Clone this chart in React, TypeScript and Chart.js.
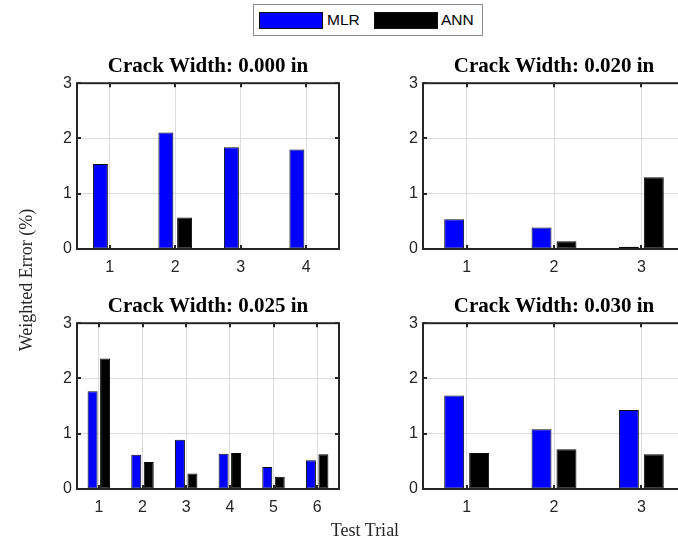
import { useEffect, useRef } from "react";
import { Chart, registerables } from "chart.js";

Chart.register(...registerables);

// Series
const seriesNames = ["MLR", "ANN"];
const seriesColors = ["#0000ff", "#000000"];

// Crack width 0.000 in
const trials000 = ["1", "2", "3", "4"];
const mlr000 = [1.54, 2.11, 1.84, 1.8];
const ann000 = [0, 0.57, 0, 0];

// Crack width 0.020 in
const trials020 = ["1", "2", "3"];
const mlr020 = [0.54, 0.39, 0.04];
const ann020 = [0, 0.14, 1.3];

// Crack width 0.025 in
const trials025 = ["1", "2", "3", "4", "5", "6"];
const mlr025 = [1.77, 0.62, 0.89, 0.64, 0.4, 0.52];
const ann025 = [2.36, 0.49, 0.28, 0.65, 0.22, 0.63];

// Crack width 0.030 in
const trials030 = ["1", "2", "3"];
const mlr030 = [1.69, 1.08, 1.43];
const ann030 = [0.65, 0.72, 0.63];

// Shared y range / ticks
const yMin = 0;
const yMax = 3;
const yStep = 1;

const SANS = "'Liberation Sans', Arial, Helvetica, sans-serif";
const SERIF = "'Liberation Serif', 'Times New Roman', Times, serif";
const AXIS_COLOR = "#262626";
const GRID_COLOR = "#dcdcdc";

// Plot-area geometry (px)
const PLOT_W = 262;
const PLOT_H = 166;
const Y_AXIS_W = 40;
const TITLE_H = 40;
const X_AXIS_H = 35;
const RIGHT_PAD = 10;

// Draws the closed axes box and inward tick marks on top of the bars
const axesFrame = {
  id: "axesFrame",
  afterDatasetsDraw(chart: any) {
    const { ctx, chartArea: a, scales } = chart;
    ctx.save();
    ctx.strokeStyle = AXIS_COLOR;
    ctx.lineWidth = 2;
    ctx.strokeRect(a.left, a.top, a.right - a.left, a.bottom - a.top);
    const tl = 4;
    ctx.beginPath();
    scales.x.ticks.forEach((_: any, i: number) => {
      const x = Math.round(scales.x.getPixelForTick(i));
      ctx.moveTo(x, a.bottom);
      ctx.lineTo(x, a.bottom - tl);
      ctx.moveTo(x, a.top);
      ctx.lineTo(x, a.top + tl);
    });
    scales.y.ticks.forEach((t: any) => {
      const y = Math.round(scales.y.getPixelForValue(t.value));
      ctx.moveTo(a.left, y);
      ctx.lineTo(a.left + tl, y);
      ctx.moveTo(a.right, y);
      ctx.lineTo(a.right - tl, y);
    });
    ctx.stroke();
    ctx.restore();
  },
};

type PanelProps = {
  title: string;
  labels: string[];
  mlr: number[];
  ann: number[];
  left: number;
  top: number;
};

function Panel({ title, labels, mlr, ann, left, top }: PanelProps) {
  const ref = useRef<HTMLCanvasElement | null>(null);
  const width = Y_AXIS_W + PLOT_W + RIGHT_PAD;
  const height = TITLE_H + PLOT_H + X_AXIS_H;

  useEffect(() => {
    if (!ref.current) return;
    const chart = new Chart(ref.current, {
      type: "bar",
      data: {
        labels,
        datasets: [mlr, ann].map((values, i) => ({
          label: seriesNames[i],
          data: values,
          backgroundColor: seriesColors[i],
          borderColor: "#0a0a0a",
          borderWidth: 1,
          borderSkipped: false,
          categoryPercentage: 0.5714,
          barPercentage: 0.8,
        })),
      },
      options: {
        responsive: false,
        animation: false,
        devicePixelRatio: 1,
        layout: { padding: { left: 0, top: 0, bottom: 0, right: RIGHT_PAD } },
        plugins: {
          legend: { display: false },
          tooltip: { enabled: false },
          title: {
            display: true,
            fullSize: false,
            text: title,
            color: "#000000",
            font: { family: SERIF, size: 21, weight: "bold" },
            padding: { top: 11, bottom: 4 },
          },
        },
        scales: {
          x: {
            type: "category",
            offset: true,
            grid: { offset: false, color: GRID_COLOR, lineWidth: 1, drawTicks: false },
            border: { display: false },
            ticks: {
              color: AXIS_COLOR,
              font: { family: SANS, size: 16 },
              padding: 9,
              maxRotation: 0,
            },
            afterFit: (s: any) => {
              s.height = X_AXIS_H;
            },
          },
          y: {
            min: yMin,
            max: yMax,
            grid: { color: GRID_COLOR, lineWidth: 1, drawTicks: false },
            border: { display: false },
            ticks: {
              stepSize: yStep,
              color: AXIS_COLOR,
              font: { family: SANS, size: 16 },
              padding: 5,
            },
            afterFit: (s: any) => {
              s.width = Y_AXIS_W;
            },
          },
        },
      },
      plugins: [axesFrame],
    } as any);
    return () => chart.destroy();
  }, [title, labels, mlr, ann]);

  return (
    <canvas
      ref={ref}
      width={width}
      height={height}
      style={{
        position: "absolute",
        left: left - Y_AXIS_W,
        top: top - TITLE_H,
        width,
        height,
      }}
    />
  );
}

function LegendSwatch({ color, left }: { color: string; left: number }) {
  return (
    <div
      style={{
        position: "absolute",
        left,
        top: 7,
        width: 62,
        height: 15,
        background: color,
        border: "1px solid #111111",
      }}
    />
  );
}

function LegendText({ text, left }: { text: string; left: number }) {
  return (
    <div
      style={{
        position: "absolute",
        left,
        top: 6,
        height: 18,
        lineHeight: "18px",
        fontFamily: SANS,
        fontSize: 15.5,
        color: "#000000",
        whiteSpace: "nowrap",
      }}
    >
      {text}
    </div>
  );
}

export default function App() {
  const colL = 77;
  const colR = 423;
  const rowT = 83;
  const rowB = 323;
  return (
    <div
      style={{
        position: "fixed",
        left: 0,
        top: 0,
        width: 678,
        height: 544,
        overflow: "hidden",
        background: "#ffffff",
      }}
    >
      <Panel title="Crack Width: 0.000 in" labels={trials000} mlr={mlr000} ann={ann000} left={colL} top={rowT} />
      <Panel title="Crack Width: 0.020 in" labels={trials020} mlr={mlr020} ann={ann020} left={colR} top={rowT} />
      <Panel title="Crack Width: 0.025 in" labels={trials025} mlr={mlr025} ann={ann025} left={colL} top={rowB} />
      <Panel title="Crack Width: 0.030 in" labels={trials030} mlr={mlr030} ann={ann030} left={colR} top={rowB} />

      {/* shared legend */}
      <div
        style={{
          position: "absolute",
          left: 253,
          top: 4,
          width: 228,
          height: 30,
          border: "1px solid #8c8c8c",
          background: "#ffffff",
        }}
      >
        <LegendSwatch color={seriesColors[0]} left={5} />
        <LegendText text={seriesNames[0]} left={73} />
        <LegendSwatch color={seriesColors[1]} left={120} />
        <LegendText text={seriesNames[1]} left={187} />
      </div>

      {/* shared axis labels */}
      <div
        style={{
          position: "absolute",
          left: 26 - 100,
          top: 280 - 12,
          width: 200,
          height: 24,
          lineHeight: "24px",
          textAlign: "center",
          transform: "rotate(-90deg)",
          fontFamily: SERIF,
          fontSize: 18,
          color: AXIS_COLOR,
          whiteSpace: "nowrap",
        }}
      >
        Weighted Error (%)
      </div>
      <div
        style={{
          position: "absolute",
          left: 365 - 100,
          top: 530 - 12,
          width: 200,
          height: 24,
          lineHeight: "24px",
          textAlign: "center",
          fontFamily: SERIF,
          fontSize: 18,
          color: AXIS_COLOR,
          whiteSpace: "nowrap",
        }}
      >
        Test Trial
      </div>
    </div>
  );
}
